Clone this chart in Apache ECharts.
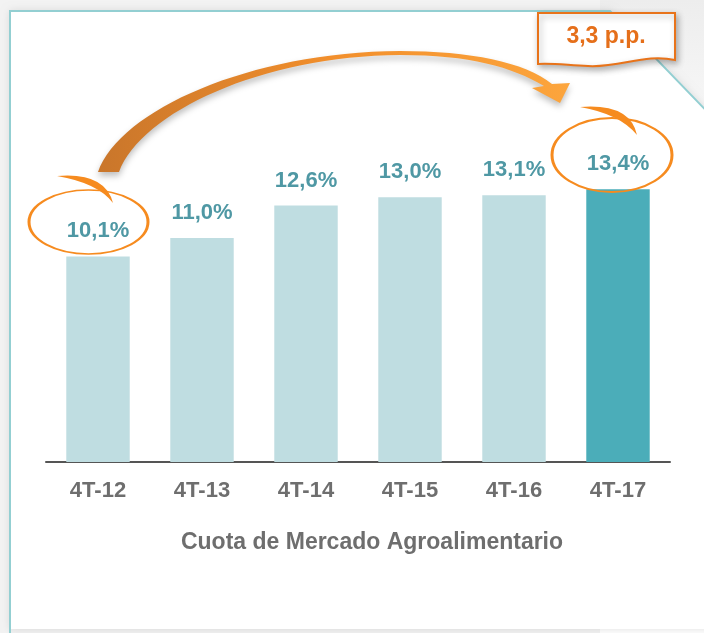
<!DOCTYPE html>
<html>
<head>
<meta charset="utf-8">
<script src="https://cdn.jsdelivr.net/npm/echarts@6/dist/echarts.min.js"></script>
<style>
  html, body { margin: 0; padding: 0; background: #f3f3f3; }
  #chart { width: 704px; height: 633px; }
</style>
</head>
<body>
<div id="chart"></div>
<script>
// datos: cuota de mercado agroalimentario por trimestre
const categories = ['4T-12', '4T-13', '4T-14', '4T-15', '4T-16', '4T-17']
const values = [10.1, 11.0, 12.6, 13.0, 13.1, 13.4]
const highlightIndex = 5
const deltaLabel = '3,3 p.p.'
const axisTitle = 'Cuota de Mercado Agroalimentario'

const FONT = '"Liberation Sans", Arial, sans-serif'
const barLight = '#bfdde1'
const barDark = '#4badb9'
const labelTeal = '#4f98a4'
const orange = '#f68b1f'
const greyText = '#6e6e6e'

// formas decorativas (flecha, trazos y caja)
const shapes = {
  arrowCurve:
    'M98,172 C120,110 250,52 400,51 C470,51 525,62 552,84 L570,83 L560,103 L532,88 L544,86 ' +
    'C512,67 470,55 400,55 C262,56 142,112 119,172 Z',
  swooshLeft: 'M57,176 Q105,172 113,203 Q98,183 57,176 Z',
  swooshRight: 'M580,107 Q630,103 637,135 Q620,114 580,107 Z',
  noteBox: 'M538,13 L675,13 L675,60 C645,53 620,68 588,66 C566,65 552,63 538,64 Z',
}
Object.keys(shapes).forEach(name => {
  echarts.graphic.registerShape(name, echarts.graphic.extendPath(shapes[name], {}))
})

const chart = echarts.init(document.getElementById('chart'))

function fmt(v) {
  return v.toFixed(1).replace('.', ',') + '%'
}

// elipse dibujada como círculo escalado
function ellipse(cx, cy, rx, ry) {
  return {
    type: 'circle',
    z: 100,
    silent: true,
    x: cx,
    y: cy,
    scaleX: 1,
    scaleY: ry / rx,
    shape: { cx: 0, cy: 0, r: rx },
    style: { fill: null, stroke: orange, lineWidth: 3, strokeNoScale: true },
  }
}

chart.setOption({
  animation: false,
  backgroundColor: '#f3f3f3',
  grid: { left: 46, right: 34, top: 177, bottom: 171 },
  xAxis: {
    type: 'category',
    data: categories,
    axisLine: { lineStyle: { color: '#555555', width: 2 } },
    axisTick: { show: false },
    axisLabel: { color: greyText, fontSize: 22, fontWeight: 'bold', fontFamily: FONT, margin: 18 },
  },
  yAxis: {
    type: 'value',
    min: 0,
    max: 14,
    show: false,
    splitLine: { show: false },
  },
  series: [
    {
      type: 'bar',
      barCategoryGap: '39%',
      data: values.map((v, i) => ({
        value: v,
        itemStyle: { color: i === highlightIndex ? barDark : barLight },
      })),
      label: {
        show: true,
        position: 'top',
        distance: 14,
        formatter: p => fmt(p.value),
        color: labelTeal,
        fontSize: 22,
        fontWeight: 'bold',
        fontFamily: FONT,
      },
    },
  ],
  graphic: [
    // zona tras la esquina doblada
    {
      type: 'polygon',
      z: -11,
      silent: true,
      shape: { points: [[600, 0], [704, 0], [704, 633], [600, 633]] },
      style: {
        fill: {
          type: 'linear', x: 0, y: 0, x2: 0, y2: 1,
          colorStops: [
            { offset: 0, color: '#ededed' },
            { offset: 0.25, color: '#fbfbfb' },
            { offset: 1, color: '#ffffff' },
          ],
        },
      },
    },
    // panel blanco con esquina recortada
    {
      type: 'polygon',
      z: -10,
      silent: true,
      shape: { points: [[10, 11], [610, 11], [720, 125], [720, 629], [10, 629]] },
      style: { fill: '#ffffff', shadowBlur: 8, shadowColor: 'rgba(0,0,0,0.12)' },
    },
    {
      type: 'polyline',
      z: -9,
      silent: true,
      shape: { points: [[10, 640], [10, 11], [610, 11], [720, 125]] },
      style: { stroke: '#93cfd2', lineWidth: 2, fill: null },
    },
    // flecha curva
    {
      type: 'arrowCurve',
      z: 100,
      silent: true,
      style: {
        fill: {
          type: 'linear', x: 0, y: 0, x2: 1, y2: 0,
          colorStops: [
            { offset: 0, color: '#c9762b' },
            { offset: 0.5, color: '#f28f2c' },
            { offset: 1, color: '#fca53d' },
          ],
        },
        shadowBlur: 6,
        shadowOffsetY: 4,
        shadowColor: 'rgba(0,0,0,0.25)',
      },
    },
    // círculos a mano
    ellipse(88.5, 222, 59.5, 32),
    { type: 'swooshLeft', z: 100, silent: true, style: { fill: orange } },
    ellipse(612, 155, 60, 37),
    { type: 'swooshRight', z: 100, silent: true, style: { fill: orange } },
    // caja "3,3 p.p."
    {
      type: 'noteBox',
      z: 101,
      silent: true,
      style: {
        fill: '#ffffff',
        stroke: '#e8731a',
        lineWidth: 2,
        shadowBlur: 6,
        shadowOffsetX: 2,
        shadowOffsetY: 3,
        shadowColor: 'rgba(0,0,0,0.3)',
      },
    },
    {
      type: 'text',
      z: 102,
      silent: true,
      x: 606,
      y: 37,
      style: {
        text: deltaLabel,
        align: 'center',
        verticalAlign: 'middle',
        fill: '#e56f1a',
        font: 'bold 23px ' + FONT,
      },
    },
    // título del eje
    {
      type: 'text',
      silent: true,
      x: 372,
      y: 543,
      style: {
        text: axisTitle,
        align: 'center',
        verticalAlign: 'middle',
        fill: greyText,
        font: 'bold 23px ' + FONT,
      },
    },
  ],
})
</script>
</body>
</html>
